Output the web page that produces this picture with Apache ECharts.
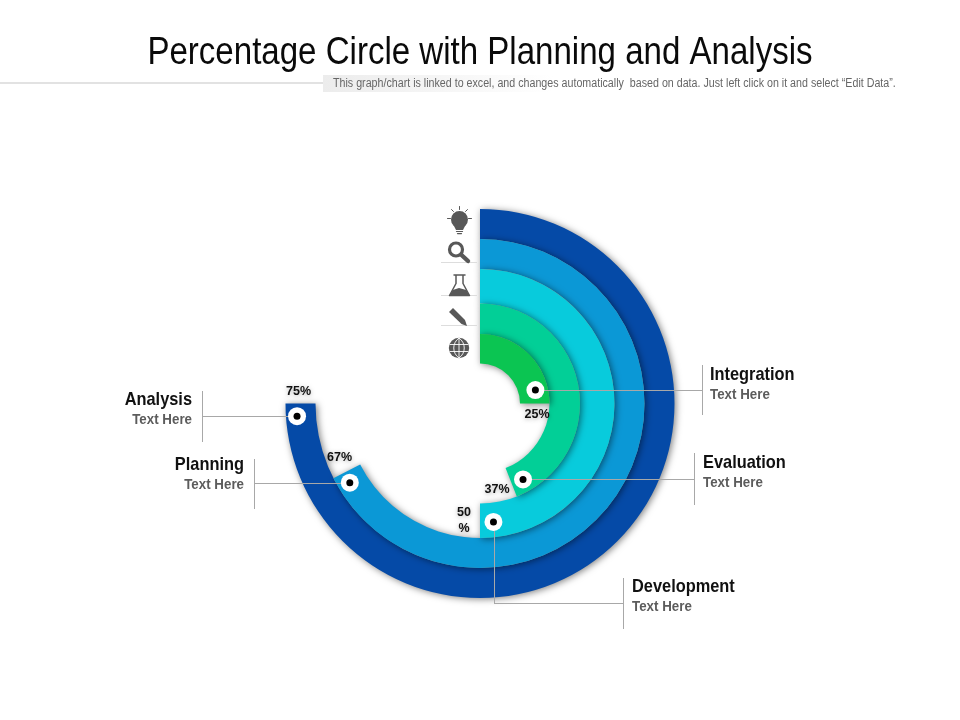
<!DOCTYPE html>
<html><head><meta charset="utf-8">
<style>html,body{margin:0;padding:0;background:#fff}#c{width:960px;height:720px}</style>
<script src="https://cdn.jsdelivr.net/npm/echarts@6/dist/echarts.min.js"></script>
</head><body><div id="c"></div>
<script>
const titleText = 'Percentage Circle with Planning and Analysis';
const subtitleText = 'This graph/chart is linked to excel, and changes automatically  based on data. Just left click on it and select \u201cEdit Data\u201d.';
const categories = ['Integration', 'Evaluation', 'Development', 'Planning', 'Analysis'];
const percentLabels = ['25%', '37%', '50\n%', '67%', '75%'];
const arcShares = [25, 44, 50, 67.5, 75];
const markerShares = [21.2, 41.8, 48.2, 66.3, 73.9];
const markerRadii = [57, 87.3, 119.2, 152.4, 183.4];
const subLabel = 'Text Here';
const colors = ['#0bc552', '#02cf97', '#08cbdc', '#0b98d6', '#054aa7'];

const CX = 480, CY = 403.5, R = 194.5;
const edges = [40, 69.5, 100, 134.5, 164.5, 194.5];
const FONT = '"Liberation Sans",Arial,sans-serif';

const ringSeries = categories.map((name, i) => ({
  type: 'pie', name, silent: true, animation: false,
  center: [CX, CY], radius: [edges[i], edges[i + 1]],
  startAngle: 90, clockwise: true,
  label: { show: false }, labelLine: { show: false },
  data: [
    { value: arcShares[i], name, itemStyle: { color: colors[i], shadowBlur: 7, shadowColor: 'rgba(0,0,0,0.5)', shadowOffsetX: 1.5, shadowOffsetY: 1 } },
    { value: 100 - arcShares[i], name: '', itemStyle: { color: 'rgba(0,0,0,0)' } }
  ]
})).reverse();

const markerData = markerShares.map((s, i) => [markerRadii[i], s]);
const markerBase = { type: 'scatter', coordinateSystem: 'polar', silent: true, animation: false, data: markerData, symbol: 'circle' };

const G = [];
const add = (o) => G.push(Object.assign({ z: 4, silent: true }, o));
const line = (x1, y1, x2, y2, stroke = '#a8a8a8', w = 1) =>
  add({ type: 'line', z: 3, shape: { x1, y1, x2, y2 }, style: { stroke, lineWidth: w } });
const text = (x, y, t, fill, font, align, sx, extra = {}) =>
  add({ type: 'text', z: 7, x, y, scaleX: sx, style: Object.assign({ text: t, fill, font, align, verticalAlign: 'middle' }, extra) });
const label = (i, x, yTop, align) => {
  text(x, yTop + 1, categories[i], '#111', `bold 18.5px ${FONT}`, align, 0.885);
  text(x, yTop + 21, subLabel, '#5c5c5c', `bold 14.5px ${FONT}`, align, 0.92);
};
const pct = (i, x, y) => text(x, y, percentLabels[i], '#111', `bold 12.5px ${FONT}`, 'center', 1, { lineHeight: 16, textShadowBlur: 4, textShadowColor: 'rgba(0,0,0,0.3)', textShadowOffsetY: 1 });

// header
text(480, 54, titleText, '#0a0a0a', `38px ${FONT}`, 'center', 0.87);
line(0, 83, 323, 83, '#d8d8d8', 1.5);
add({ type: 'rect', z: 1, shape: { x: 323, y: 75, width: 230, height: 17 },
  style: { fill: new echarts.graphic.LinearGradient(0, 0, 1, 0, [{ offset: 0, color: '#ececec' }, { offset: 1, color: '#ffffff' }]) } });
text(333, 83.5, subtitleText, '#666', `12px ${FONT}`, 'left', 0.89);

// leaders
line(202.5, 391, 202.5, 442); line(202, 416.5, 290, 416.5);
line(254.5, 459, 254.5, 509); line(254, 483.5, 350, 483.5);
line(702.5, 365, 702.5, 415); line(535, 390.5, 702, 390.5);
line(694.5, 453, 694.5, 505); line(523, 479.5, 694, 479.5);
line(623.5, 578, 623.5, 629); line(494, 603.5, 623, 603.5); line(494.5, 522, 494.5, 603.5);

label(0, 710, 374, 'left');
label(1, 703, 462, 'left');
label(2, 632, 586, 'left');
label(3, 244, 464, 'right');
label(4, 192, 399, 'right');

pct(0, 537, 414.5); pct(1, 497, 489.5); pct(2, 464, 521); pct(3, 339.5, 457.5); pct(4, 298.5, 391.5);

// icons
const ICON = '#585858';
const iconLine = (x1, y1, x2, y2, w) => add({ type: 'line', shape: { x1, y1, x2, y2 }, style: { stroke: ICON, lineWidth: w, lineCap: 'round' } });
const poly = (points) => add({ type: 'polygon', shape: { points }, style: { fill: ICON } });
// bulb
add({ type: 'circle', shape: { cx: 459.5, cy: 219.5, r: 8.5 }, style: { fill: ICON } });
poly([[453.5, 225], [465.5, 225], [463, 230], [456, 230]]);
iconLine(456.5, 231.5, 462.5, 231.5, 1.2);
iconLine(457.5, 233.6, 461.5, 233.6, 1.2);
[[459.5, 206.5, 459.5, 209.5], [451.5, 209.5, 453.5, 211.5], [467.5, 209.5, 465.5, 211.5], [447.5, 218.5, 450.5, 218.5], [468.5, 218.5, 471.5, 218.5]]
  .forEach(s => iconLine(s[0], s[1], s[2], s[3], 1));
// magnifier
add({ type: 'circle', shape: { cx: 456, cy: 249.5, r: 6.5 }, style: { fill: 'none', stroke: ICON, lineWidth: 3.2 } });
iconLine(461.5, 255, 468, 261, 4.4);
// flask
add({ type: 'polyline', shape: { points: [[456, 275], [456, 283.5], [449.5, 295.5], [469.5, 295.5], [463, 283.5], [463, 275]] }, style: { stroke: ICON, lineWidth: 1.5, fill: 'none', lineJoin: 'round' } });
iconLine(454, 275, 465, 275, 1.5);
poly([[452.8, 290], [459, 288], [466.2, 290], [469.5, 295.5], [449.5, 295.5]]);
// pencil
poly([[453, 308], [449, 312], [461.5, 324], [467, 326], [465, 320]]);
// globe
add({ type: 'circle', shape: { cx: 459, cy: 348, r: 10.2 }, style: { fill: ICON } });
const gl = (o) => add(Object.assign({ z: 5 }, o, { style: { stroke: '#fff', lineWidth: 0.9, fill: 'none' } }));
gl({ type: 'line', shape: { x1: 449.5, y1: 344.5, x2: 468.5, y2: 344.5 } });
gl({ type: 'line', shape: { x1: 449.5, y1: 351.5, x2: 468.5, y2: 351.5 } });
gl({ type: 'line', shape: { x1: 459, y1: 338, x2: 459, y2: 358 } });
gl({ type: 'bezierCurve', shape: { x1: 459, y1: 338, x2: 459, y2: 358, cpx1: 452, cpy1: 343, cpx2: 452, cpy2: 353 } });
gl({ type: 'bezierCurve', shape: { x1: 459, y1: 338, x2: 459, y2: 358, cpx1: 466, cpy1: 343, cpx2: 466, cpy2: 353 } });
// icon separators
line(441, 262.5, 477, 262.5, '#dddddd');
line(441, 295.5, 477, 295.5, '#dddddd');
line(441, 325.5, 477, 325.5, '#dddddd');

const chart = echarts.init(document.getElementById('c'), null, { renderer: 'canvas' });
chart.setOption({
  backgroundColor: '#ffffff',
  animation: false,
  polar: { center: [CX, CY], radius: R },
  angleAxis: { type: 'value', min: 0, max: 100, startAngle: 90, clockwise: true, show: false },
  radiusAxis: { type: 'value', min: 0, max: R, show: false },
  series: [
    ...ringSeries,
    Object.assign({}, markerBase, { name: 'ring', z: 5, symbolSize: 18, itemStyle: { color: '#ffffff', opacity: 1 } }),
    Object.assign({}, markerBase, { name: 'dot', z: 6, symbolSize: 7, itemStyle: { color: '#000000', opacity: 1 } })
  ],
  graphic: { elements: G }
});
</script></body></html>
